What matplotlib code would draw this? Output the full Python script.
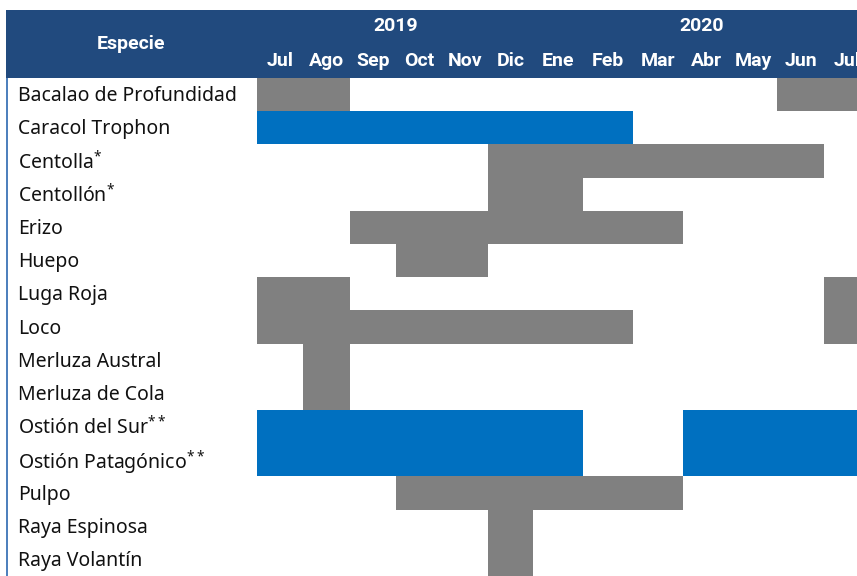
import matplotlib
matplotlib.use('Agg')
from matplotlib import pyplot as plt
from matplotlib.patches import Rectangle

plt.rcParams['font.family'] = ['Noto Sans', 'DejaVu Sans']
plt.rcParams['mathtext.fontset'] = 'custom'
plt.rcParams['mathtext.rm'] = 'Noto Sans'
plt.rcParams['mathtext.it'] = 'Noto Sans'

# species and closed periods (month index 0 = Jul 2019 ... 12 = Jul 2020)
species = ['Bacalao de Profundidad', 'Caracol Trophon', 'Centolla$^{*}$',
           'Centollón$^{*}$', 'Erizo', 'Huepo', 'Luga Roja', 'Loco',
           'Merluza Austral', 'Merluza de Cola', 'Ostión del Sur$^{**}$',
           'Ostión Patagónico$^{**}$', 'Pulpo', 'Raya Espinosa', 'Raya Volantín']
# (row, start month, end month exclusive, kind)
periods = [
    (0, 0, 2, 'gray'), (0, 11, 13, 'gray'),
    (1, 0, 8, 'blue'),
    (2, 5, 12, 'gray'),
    (3, 5, 7, 'gray'),
    (4, 2, 9, 'gray'),
    (5, 3, 5, 'gray'),
    (6, 0, 2, 'gray'), (6, 12, 13, 'gray'),
    (7, 0, 8, 'gray'), (7, 12, 13, 'gray'),
    (8, 1, 2, 'gray'),
    (9, 1, 2, 'gray'),
    (10, 0, 7, 'blue'), (10, 9, 13, 'blue'),
    (11, 0, 7, 'blue'), (11, 9, 13, 'blue'),
    (12, 3, 9, 'gray'),
    (13, 5, 6, 'gray'),
    (14, 5, 6, 'gray'),
]
months = ['Jul', 'Ago', 'Sep', 'Oct', 'Nov', 'Dic', 'Ene', 'Feb', 'Mar',
          'Abr', 'May', 'Jun', 'Jul']
years = ['2019', '2020']
year_center_month = [3.0, 9.4]

# layout (pixels)
W, H = 857, 576
col_edges = [257, 303, 350, 396, 442, 488, 533, 583, 633, 683, 730, 777, 824, 871]
head_top, head_bot = 10, 78
colors = {'gray': '#808080', 'blue': '#0070C0'}
header_color = '#214A7E'
head_font = dict(family='Roboto', fontweight='bold', color='white',
                 fontsize=14, ha='center', va='center')

fig = plt.figure(figsize=(W / 100, H / 100), dpi=100)
ax = fig.add_axes([0, 0, 1, 1])
ax.set_xlim(0, W)
ax.set_ylim(H, 0)
ax.axis('off')

row_h = (H - head_bot) / len(species)

# header band
ax.add_patch(Rectangle((6, head_top), W - 6, head_bot - head_top,
                       color=header_color, lw=0))
# thin blue line at the left of the rows
ax.add_patch(Rectangle((6, head_bot), 2, H - head_bot, color='#4F81BD', lw=0))

for row, s, e, kind in periods:
    ax.barh(head_bot + (row + 0.5) * row_h, col_edges[e] - col_edges[s],
            left=col_edges[s], height=row_h, color=colors[kind], lw=0)

for i, name in enumerate(species):
    ax.text(18, head_bot + (i + 0.5) * row_h - 1, name, va='center_baseline',
            ha='left', fontsize=14, color='#111111')

ax.text(131, 44, 'Especie', **head_font)
for i, m in enumerate(months):
    ax.text((col_edges[i] + col_edges[i + 1]) / 2, 61, m, **head_font)
for y, c in zip(years, year_center_month):
    k = int(c)
    x = col_edges[k] + (c - k) * (col_edges[k + 1] - col_edges[k])
    ax.text(x, 26, y, **head_font)

fig.savefig('out.png', dpi=100)
